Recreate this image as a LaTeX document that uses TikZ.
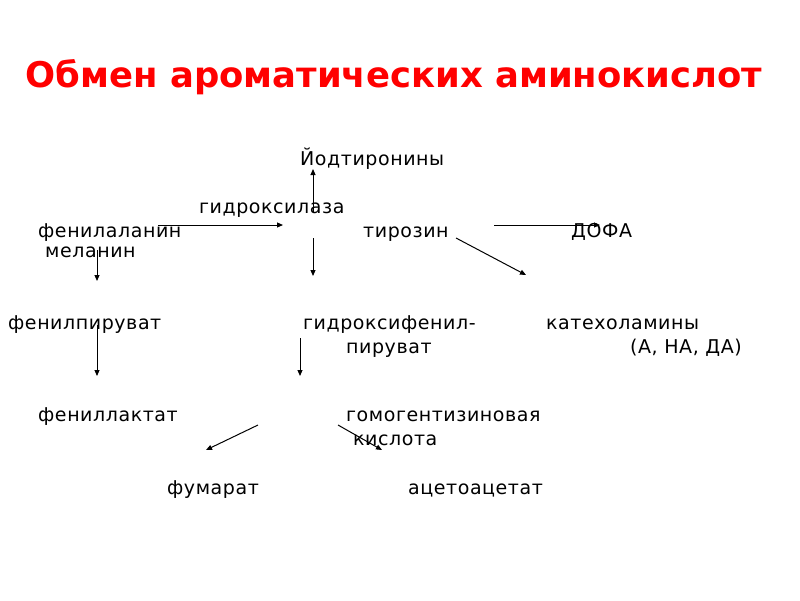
\documentclass[tikz,border=0pt]{standalone}
\usepackage{fontspec}
\setmainfont{DejaVu Sans}
\usetikzlibrary{arrows.meta, positioning}
\newfontfamily\titlefont{DejaVu Sans}
\newfontfamily\compfont[LetterSpace=3]{DejaVu Sans}
\tikzstyle{compound}=[anchor=base west, inner sep=0pt, font=\compfont\fontsize{19}{22}\selectfont]
\tikzstyle{reaction}=[line width=1pt, -{Triangle[length=6pt,width=5pt]}]
\tikzstyle{heading}=[anchor=base, inner sep=0pt, text=red, font=\titlefont\bfseries\fontsize{35.4}{40}\selectfont]

\begin{document}
\begin{tikzpicture}[x=1pt, y=-1pt]
    \useasboundingbox[fill=white] (0, 0) rectangle (800, 600);

    \node (title)[heading] at (394, 87) {Обмен ароматических аминокислот};

    \node (iod)[compound] at (300, 165) {Йодтиронины};
    \node (hydrox)[compound] at (199, 213) {гидроксилаза};
    \node (phe)[compound] at (38, 237) {фенилаланин};
    \node (tyr)[compound] at (363, 237) {тирозин};
    \node (dopa)[compound] at (571, 237) {ДОФА};
    \node (melanin)[compound] at (45, 257) {меланин};
    \node (phepyr)[compound] at (8, 329) {фенилпируват};
    \node (hpp1)[compound] at (303, 329) {гидроксифенил-};
    \node (hpp2)[compound] at (346, 353) {пируват};
    \node (cat1)[compound] at (546, 329) {катехоламины};
    \node (cat2)[compound] at (630, 353) {(А, НА, ДА)};
    \node (phelac)[compound] at (38, 421) {фениллактат};
    \node (hga1)[compound] at (346, 421) {гомогентизиновая};
    \node (hga2)[compound] at (353, 445) {кислота};
    \node (fum)[compound] at (167, 494) {фумарат};
    \node (acac)[compound] at (408, 494) {ацетоацетат};

    % arrow ends
    \coordinate (p1a) at (158, 225); \coordinate (p1b) at (283, 225);
    \coordinate (p2a) at (313, 212); \coordinate (p2b) at (313, 169);
    \coordinate (p3a) at (313, 238); \coordinate (p3b) at (313, 276);
    \coordinate (p4a) at (97, 250);  \coordinate (p4b) at (97, 281);
    \coordinate (p5a) at (494, 225); \coordinate (p5b) at (600, 225);
    \coordinate (p6a) at (456, 238); \coordinate (p6b) at (526, 275);
    \coordinate (p7a) at (97, 325);  \coordinate (p7b) at (97, 376);
    \coordinate (p8a) at (300, 338); \coordinate (p8b) at (300, 376);
    \coordinate (p9a) at (258, 425); \coordinate (p9b) at (206, 450);
    \coordinate (p10a) at (338, 425); \coordinate (p10b) at (382, 450);

    \draw[reaction] (p1a) -- (p1b);
    \draw[reaction] (p2a) -- (p2b);
    \draw[reaction] (p3a) -- (p3b);
    \draw[reaction] (p4a) -- (p4b);
    \draw[reaction] (p5a) -- (p5b);
    \draw[reaction] (p6a) -- (p6b);
    \draw[reaction] (p7a) -- (p7b);
    \draw[reaction] (p8a) -- (p8b);
    \draw[reaction] (p9a) -- (p9b);
    \draw[reaction] (p10a) -- (p10b);

\end{tikzpicture}
\end{document}
